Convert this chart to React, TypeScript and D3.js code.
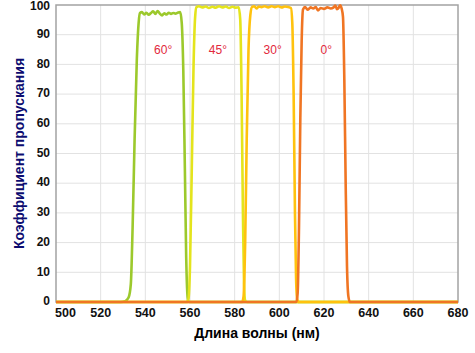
import React from "react";
import * as d3 from "d3";

const W = 475;
const H = 353;

const xTicks = [500, 520, 540, 560, 580, 600, 620, 640, 660, 680];
const yTicks = [0, 10, 20, 30, 40, 50, 60, 70, 80, 90, 100];

// [wavelength nm, transmission %]
const curve60: [number, number][] = [
  [500, 0], [529, 0], [531, 0.3], [532.5, 1.5], [533.5, 6], [534.3, 25], [535.2, 55], [536.2, 82], [537, 94], [537.6, 97.3],
  [538.5, 97.6], [539.5, 96.8], [540.5, 97.4], [541.5, 96.7], [542.5, 97.3], [543.5, 97.9], [544.5, 97.0], [545.5, 98.0],
  [546.5, 97.1], [547.5, 96.5], [548.5, 97.2], [549.5, 96.8], [550.5, 97.4], [551.5, 97.0], [552.5, 97.3], [553.5, 97.1],
  [554.5, 97.4], [555.6, 97.6], [556.3, 94], [557, 78], [557.7, 45], [558.3, 15], [558.8, 3], [559.2, 0.3], [560, 0], [680, 0],
];

const curve45: [number, number][] = [
  [500, 0], [558.5, 0], [559.3, 1], [560, 12], [560.8, 45], [561.6, 80], [562.3, 96], [562.9, 99.3],
  [564, 99.6], [565.5, 99.2], [567, 99.5], [568.5, 99.0], [570, 99.4], [571.5, 99.1], [573, 99.6], [574.5, 99.2],
  [576, 99.5], [577.5, 99.0], [579, 99.4], [580.5, 99.1], [581.8, 99.2], [582.5, 95], [583.1, 70], [583.7, 30],
  [584.2, 6], [584.7, 0.5], [585.5, 0], [680, 0],
];

const curve30: [number, number][] = [
  [500, 0], [583.3, 0], [584, 2], [584.7, 20], [585.4, 55], [586.2, 85], [587, 96.5], [587.8, 99.4],
  [588.8, 99.6], [589.8, 98.8], [590.8, 99.5], [592, 99.3], [593.5, 99.6], [595, 99.2], [596.5, 99.6], [598, 99.3],
  [599.5, 99.6], [601, 99.2], [602.5, 99.5], [604, 99.3], [605.2, 99.0], [605.8, 94], [606.4, 70], [607, 30],
  [607.5, 8], [608, 1], [608.8, 0], [680, 0],
];

const curve0: [number, number][] = [
  [500, 0], [607.6, 0], [608.2, 3], [608.8, 25], [609.4, 62], [610, 88], [610.6, 98.5],
  [611.5, 99.3], [612.8, 98.4], [614, 99.2], [615.2, 98.8], [616.3, 99.3], [617.3, 98.2], [618.5, 99.0],
  [620, 98.7], [621.5, 99.2], [623, 98.8], [624.3, 99.2], [625.1, 99.8], [625.8, 98.6], [626.6, 99.1], [627.2, 99.9],
  [627.9, 98.8], [628.5, 96], [629.1, 75], [629.7, 40], [630.3, 12], [630.9, 2], [631.6, 0], [680, 0],
];

const seriesData = [curve60, curve45, curve30, curve0];
const seriesColors = ["#9cc92c", "#e4e41c", "#ffc20e", "#f07523"];
const seriesLabels = ["60°", "45°", "30°", "0°"];
const labelWavelengths = [548, 572.5, 597, 621];
const labelLevel = 85;

const xTitle = "Длина волны (нм)";
const yTitle = "Коэффициент пропускания";

export default function App() {
  const left = 56;
  const right = 458;
  const top = 5;
  const bottom = 302;
  const x = d3.scaleLinear().domain([500, 680]).range([left, right]);
  const y = d3.scaleLinear().domain([0, 100]).range([bottom, top]);
  const line = d3
    .line<[number, number]>()
    .x((d) => x(d[0]))
    .y((d) => y(d[1]))
    .curve(d3.curveMonotoneX);

  const font = "Arial, 'Liberation Sans', Helvetica, sans-serif";

  return (
    <svg width={W} height={H} style={{ position: "absolute", left: 0, top: 0 }} fontFamily={font}>
      <rect x={0} y={0} width={W} height={H} fill="#fff" />
      {xTicks.slice(1, -1).map((t) => (
        <line key={"gx" + t} x1={x(t)} x2={x(t)} y1={top} y2={bottom} stroke="#e2e2e2" strokeWidth={1} />
      ))}
      {yTicks.slice(1, -1).map((t) => (
        <line key={"gy" + t} x1={left} x2={right} y1={y(t)} y2={y(t)} stroke="#e2e2e2" strokeWidth={1} />
      ))}
      <rect x={left} y={top} width={right - left} height={bottom - top} fill="none" stroke="#a3a3a3" strokeWidth={1.5} />
      {seriesData.map((s, i) => (
        <path key={"s" + i} d={line(s) || ""} fill="none" stroke={seriesColors[i]} strokeWidth={2.6} strokeLinejoin="round" />
      ))}
      {seriesLabels.map((l, i) => (
        <text key={"l" + i} x={x(labelWavelengths[i])} y={y(labelLevel)} dy="0.35em" textAnchor="middle" fontSize={12} fill="#e2283c">
          {l}
        </text>
      ))}
      {yTicks.map((t) => (
        <text key={"yt" + t} x={50} y={t === 100 ? y(t) + 1 : y(t) - 1} dy="0.35em" textAnchor="end" fontSize={12} fontWeight="bold" fill="#111">
          {t}
        </text>
      ))}
      {xTicks.map((t, i) => (
        <text key={"xt" + t} x={i === 0 ? 55 : x(t)} y={317} textAnchor={i === 0 ? "start" : "middle"} fontSize={12.5} fontWeight="bold" fill="#111">
          {t}
        </text>
      ))}
      <text x={(left + right) / 2} y={338} textAnchor="middle" fontSize={14} fontWeight="bold" fill="#000">
        {xTitle}
      </text>
      <text transform={`translate(24,${(top + bottom) / 2}) rotate(-90)`} textAnchor="middle" fontSize={14} fontWeight="bold" fill="#0c0c70">
        {yTitle}
      </text>
    </svg>
  );
}
